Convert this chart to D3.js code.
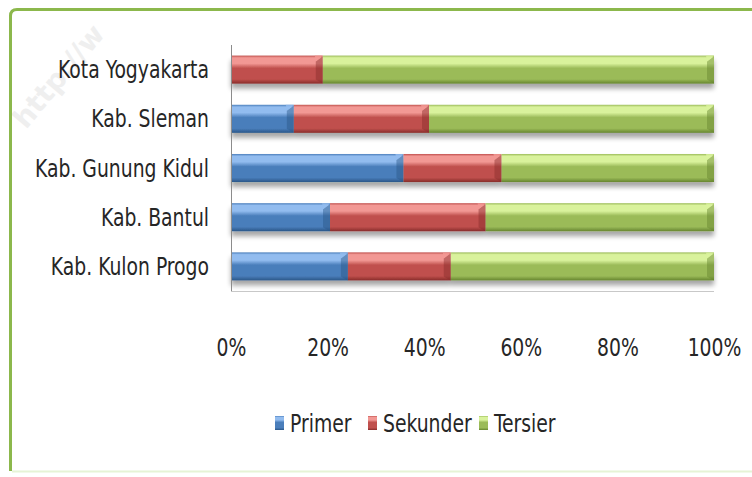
<!DOCTYPE html>
<html>
<head>
<meta charset="utf-8">
<script src="https://cdn.jsdelivr.net/npm/d3@7"></script>
<style>
  body { margin: 0; background: #fff; }
  text { font-family: "Liberation Sans Narrow", "DejaVu Sans Condensed", sans-serif; fill: #262626; }
</style>
</head>
<body>
<div id="chart"></div>
<script>
// Sector shares per region (in %)
var regions = ["Kota Yogyakarta", "Kab. Sleman", "Kab. Gunung Kidul", "Kab. Bantul", "Kab. Kulon Progo"];
var primer   = [0, 13, 35.7, 20.5, 24.2];
var sekunder = [19, 28, 20.3, 32.2, 21.3];
var tersier  = [81, 59, 44, 47.3, 54.5];
var seriesNames = ["Primer", "Sekunder", "Tersier"];
var tickValues = [0, 0.2, 0.4, 0.6, 0.8, 1];

var width = 752, height = 477;
var margin = { top: 45, left: 231, right: 38, bottom: 186 };
var squeeze = 0.87; // the original lettering is tall and narrow

var colors = {
	Primer:   { light: "#92bcef", mid: "#4a7ebb", dark: "#2a5688" },
	Sekunder: { light: "#f29894", mid: "#c0504d", dark: "#882c2a" },
	Tersier:  { light: "#d9f29c", mid: "#9bbb59", dark: "#66852f" }
};

var svg = d3.select("#chart").append("svg")
	.attr("width", width)
	.attr("height", height);

var defs = svg.append("defs");

// bevel-like gradients for each series
seriesNames.forEach(function(name) {
	var c = colors[name];
	var g = defs.append("linearGradient")
		.attr("id", "grad-" + name)
		.attr("x1", 0).attr("y1", 0).attr("x2", 0).attr("y2", 1);
	g.append("stop").attr("offset", "0%").attr("stop-color", c.mid);
	g.append("stop").attr("offset", "8%").attr("stop-color", c.light);
	g.append("stop").attr("offset", "28%").attr("stop-color", c.light);
	g.append("stop").attr("offset", "45%").attr("stop-color", c.mid);
	g.append("stop").attr("offset", "84%").attr("stop-color", c.mid);
	g.append("stop").attr("offset", "100%").attr("stop-color", c.dark);
});

var shadow = defs.append("filter")
	.attr("id", "shadow")
	.attr("x", "-5%").attr("y", "-20%").attr("width", "110%").attr("height", "160%");
shadow.append("feGaussianBlur").attr("in", "SourceAlpha").attr("stdDeviation", 2.5);
shadow.append("feOffset").attr("dx", 0).attr("dy", 5).attr("result", "off");
shadow.append("feComponentTransfer").append("feFuncA").attr("type", "linear").attr("slope", 0.35);
var merge = shadow.append("feMerge");
merge.append("feMergeNode");
merge.append("feMergeNode").attr("in", "SourceGraphic");

// watermark
svg.append("text")
	.attr("transform", "translate(26,130) rotate(-50)")
	.style("font-family", "DejaVu Sans")
	.style("font-weight", "bold")
	.style("font-size", "28px")
	.style("fill", "#efefef")
	.text("http://w");

// frame
svg.append("path")
	.attr("d", "M10.5,471 L10.5,16 Q10.5,9.5 17,9.5 L760,9.5")
	.attr("fill", "none")
	.attr("stroke", "#8cb84c")
	.attr("stroke-width", 3);
svg.append("line")
	.attr("x1", 12).attr("x2", 752).attr("y1", 471.5).attr("y2", 471.5)
	.attr("stroke", "#e6f3d6").attr("stroke-width", 2);

var x = d3.scaleLinear()
	.domain([0, 1])
	.range([margin.left, width - margin.right]);

var y = d3.scaleBand()
	.domain(regions)
	.range([margin.top, height - margin.bottom])
	.paddingInner(0.43)
	.paddingOuter(0.215);

// table for the stack
var table = regions.map(function(r, i) {
	var total = primer[i] + sekunder[i] + tersier[i];
	return { region: r, Primer: primer[i] / total, Sekunder: sekunder[i] / total, Tersier: tersier[i] / total };
});
var stacked = d3.stack().keys(seriesNames)(table);

// bottom line of the plot
svg.append("line")
	.attr("x1", margin.left).attr("x2", x(1))
	.attr("y1", height - margin.bottom + 0.5).attr("y2", height - margin.bottom + 0.5)
	.attr("stroke", "#c8c8c8");

var barGroup = svg.append("g").attr("filter", "url(#shadow)");

barGroup.selectAll("g.series")
	.data(stacked)
	.enter().append("g")
	.attr("class", "series")
	.attr("fill", function(d) { return "url(#grad-" + d.key + ")"; })
	.selectAll("rect")
	.data(function(d) { return d; })
	.enter().append("rect")
	.attr("x", function(d) { return x(d[0]); })
	.attr("y", function(d) { return y(d.data.region); })
	.attr("width", function(d) { return x(d[1]) - x(d[0]); })
	.attr("height", y.bandwidth());

// small bevel edges at the segment ends
stacked.forEach(function(s) {
	var g = svg.append("g");
	var segs = s.filter(function(d) { return d[1] - d[0] > 0; });
	// darker right face
	g.selectAll("path.face")
		.data(segs)
		.enter().append("path")
		.attr("class", "face")
		.attr("d", function(d) {
			var x1 = x(d[1]), y0 = y(d.data.region), h = y.bandwidth();
			return "M" + (x1 - 7) + "," + (y0 + 6) + " L" + x1 + "," + (y0 + 1) + " L" + x1 + "," + (y0 + h) + " L" + (x1 - 7) + "," + (y0 + h - 4) + "Z";
		})
		.attr("fill", colors[s.key].dark)
		.attr("opacity", 0.45);
	// light top-right corner
	g.selectAll("path.corner")
		.data(segs)
		.enter().append("path")
		.attr("class", "corner")
		.attr("d", function(d) {
			var x1 = x(d[1]), y0 = y(d.data.region);
			return "M" + (x1 - 8) + "," + y0 + " L" + x1 + "," + y0 + " L" + (x1 - 7) + "," + (y0 + 6) + "Z";
		})
		.attr("fill", colors[s.key].light)
		.attr("opacity", 0.8);
});

svg.append("line")
	.attr("x1", margin.left + 0.5).attr("x2", margin.left + 0.5)
	.attr("y1", margin.top).attr("y2", height - margin.bottom)
	.attr("stroke", "#8c8c8c");

// category labels
svg.append("g").selectAll("text")
	.data(regions)
	.enter().append("text")
	.attr("transform", function(d) {
		return "translate(" + (margin.left - 22) + "," + (y(d) + y.bandwidth() / 2) + ") scale(" + squeeze + ",1)";
	})
	.attr("dy", "0.36em")
	.attr("text-anchor", "end")
	.style("font-size", "24px")
	.text(function(d) { return d; });

// value axis labels
var xAxis = d3.axisBottom(x)
	.tickValues(tickValues)
	.tickSize(0)
	.tickPadding(0)
	.tickFormat(d3.format(".0%"));

var gx = svg.append("g")
	.attr("transform", "translate(0,347)")
	.call(xAxis);
gx.select(".domain").remove();
gx.selectAll("text")
	.attr("dy", "0.36em")
	.attr("y", 0)
	.attr("transform", "scale(" + squeeze + ",1)")
	.style("font-size", "24px")
	.style("font-family", null);

// legend
var legendX = [275, 368, 479];
var legend = svg.append("g").selectAll("g")
	.data(seriesNames)
	.enter().append("g")
	.attr("transform", function(d, i) { return "translate(" + legendX[i] + ",423)"; });

legend.append("rect")
	.attr("x", 0).attr("y", -7)
	.attr("width", 9).attr("height", 14)
	.attr("fill", function(d) { return "url(#grad-" + d + ")"; });

legend.append("text")
	.attr("transform", "translate(15,0) scale(" + squeeze + ",1)")
	.attr("dy", "0.36em")
	.style("font-size", "24px")
	.text(function(d) { return d; });
</script>
</body>
</html>
